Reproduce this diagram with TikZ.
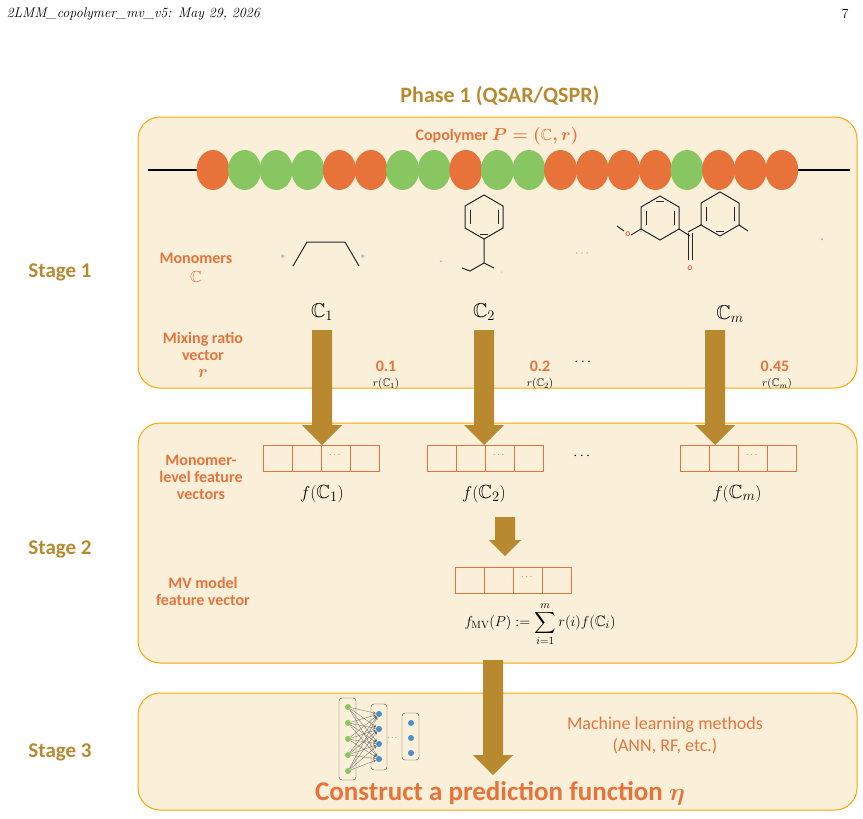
\documentclass[tikz,border=0pt]{standalone}
\usepackage{amsmath,amssymb}
\usepackage{fontspec}
\setsansfont{Carlito}
\usetikzlibrary{shapes.geometric}
\begin{document}
\begin{tikzpicture}[x=1pt,y=-1pt,
 panel/.style={draw=orange!70!yellow,line width=1pt,fill=boxfill,rounded corners=22pt},
 stagelbl/.style={font=\sffamily\bfseries\fontsize{21}{24}\selectfont,text=goldc},
 olbl/.style={font=\sffamily\bfseries\fontsize{16}{18}\selectfont,text=orangec,align=center},
 cell/.style={draw=orangec,minimum width=29pt,minimum height=26pt,inner sep=0pt,line width=0.8pt},
 bead/.style={ellipse,minimum width=33pt,minimum height=40pt,inner sep=0pt},
 bond/.style={line width=1pt,black!85}]
\definecolor{boxfill}{HTML}{FAF0DA}
\definecolor{goldc}{HTML}{B8892E}
\definecolor{orangec}{HTML}{E8733A}
\definecolor{greenc}{HTML}{88C661}
\definecolor{bluec}{HTML}{4A90C8}
\useasboundingbox (0,0) rectangle (863,819);
\node[anchor=west,font=\itshape\fontsize{14}{16}\selectfont] (hdr) at (3,14) {2LMM\_copolymer\_mv\_v5: May 29, 2026};
\node[anchor=east,font=\fontsize{14}{16}\selectfont] (pg) at (852,14) {7};
\node[font=\sffamily\bfseries\fontsize{22}{24}\selectfont,text=goldc] (title) at (500,96) {Phase 1 (QSAR/QSPR)};
\draw[panel] (138,117) rectangle (857,388);
\draw[panel] (138,423) rectangle (857,663);
\draw[panel] (138,693) rectangle (857,810);
\node[stagelbl] (s1) at (60,272) {Stage 1};
\node[stagelbl] (s2) at (60,549) {Stage 2};
\node[stagelbl] (s3) at (60,752) {Stage 3};
\node[olbl] (cop) at (497,136) {Copolymer $\boldsymbol{P=(\mathbb{C},r)}$};
% chain
\coordinate (cl) at (148,170); \coordinate (cr) at (850,170);
\draw[line width=2pt] (cl) -- (cr);
\foreach \c [count=\i from 0] in {orangec,greenc,greenc,greenc,orangec,orangec,greenc,greenc,orangec,greenc,greenc,orangec,orangec,orangec,orangec,greenc,orangec,orangec,orangec}
  \node[bead,fill=\c] (b\i) at ({213+31.6*\i},170) {};
\node[olbl] (mono) at (196,268) {Monomers\\[1pt] $\mathbb{C}$};
\node[olbl] (mix) at (203,355) {Mixing ratio\\[-1pt] vector\\[-1pt] $\boldsymbol{r}$};
\node[olbl] (mlf) at (201,477) {Monomer-\\[-1pt] level feature\\[-1pt] vectors};
\node[olbl] (mvf) at (203,591) {MV model\\[-1pt] feature vector};
% monomer 1
\draw[bond] (293,266) -- (307,242) -- (345,242) -- (359,266);
\node[text=bluec,font=\small] (st1) at (283,258) {*};
\node[text=bluec,font=\small] (st2) at (363,258) {*};
% monomer 2
\begin{scope}[shift={(484,217)}]
 \draw[bond] (0,-22) -- (19,-11) -- (19,11) -- (0,22) -- (-19,11) -- (-19,-11) -- cycle;
 \draw[bond] (-14,-7) -- (-14,7) (14,-7) -- (14,7) (-4,17) -- (4,17);
 \draw[bond] (0,22) -- (0,46) -- (-14,54) -- (-22,51) (0,46) -- (10,51);
\end{scope}
\node[text=bluec,font=\fontsize{5}{5}\selectfont] (st3) at (441,263) {*};
\node[text=bluec,font=\fontsize{5}{5}\selectfont] (st4) at (502,274) {'};
\node[text=orangec,font=\bfseries\large] (dd1) at (583,254) {$\cdots$};
% monomer m
\begin{scope}[shift={(660,218)}]
 \draw[bond] (0,-22) -- (19,-11) -- (19,11) -- (0,22) -- (-19,11) -- (-19,-11) -- cycle;
 \draw[bond] (14,-7) -- (14,7) (-14,-7) -- (-14,7) (-4,-17) -- (4,-17);
 \draw[bond] (-19,11) -- (-29,17) (19,11) -- (30,18);
\end{scope}
\node[text=red,font=\scriptsize\sffamily] (ox1) at (628,234) {O};
\draw[bond] (624,231) -- (617,226);
\draw[bond] (688,232) -- (701,225);
\draw[bond] (688,233) -- (688,260) (692,233) -- (692,260);
\node[text=red,font=\scriptsize\sffamily] (ox2) at (690,268) {O};
\begin{scope}[shift={(720,214)}]
 \draw[bond] (0,-22) -- (19,-11) -- (19,11) -- (0,22) -- (-19,11) -- (-19,-11) -- cycle;
 \draw[bond] (-14,-7) -- (-14,7) (14,-7) -- (14,7) (-4,17) -- (4,17);
 \draw[bond] (-19,11) -- (-20,11) (19,11) -- (28,17);
\end{scope}
\node[text=bluec,font=\fontsize{5}{5}\selectfont] (st5) at (641,233) {*};
\node[text=bluec,font=\fontsize{5}{5}\selectfont] (st6) at (822,241) {*};
% C labels
\node[font=\fontsize{20}{22}\selectfont] (c1) at (322,312) {$\mathbb{C}_1$};
\node[font=\fontsize{20}{22}\selectfont] (c2) at (484,312) {$\mathbb{C}_2$};
\node[font=\fontsize{20}{22}\selectfont] (cm) at (730,314) {$\mathbb{C}_m$};
\node[olbl] (r1) at (386,366) {0.1};
\node[font=\fontsize{11}{12}\selectfont] (r1l) at (386,384) {$r(\mathbb{C}_1)$};
\node[olbl] (r2) at (540,366) {0.2};
\node[font=\fontsize{11}{12}\selectfont] (r2l) at (540,384) {$r(\mathbb{C}_2)$};
\node[olbl] (rm) at (775,366) {0.45};
\node[font=\fontsize{11}{12}\selectfont] (rml) at (777,384) {$r(\mathbb{C}_m)$};
\node[font=\Large] (dd2) at (584,362) {$\cdots$};
% feature vectors
\foreach \n/\x in {fa/263,fb/427,fc/680}{
 \foreach \k in {0,1,2,3} \node[cell] (\n\k) at ({\x+14.5+29*\k},458) {};
 \node[font=\bfseries,text=orangec] (\n d) at ({\x+14.5+58},455) {$\cdots$};
}
\node[font=\Large] (dd3) at (583,456) {$\cdots$};
\node[font=\fontsize{19}{21}\selectfont] (f1) at (322,494) {$f(\mathbb{C}_1)$};
\node[font=\fontsize{19}{21}\selectfont] (f2) at (484,494) {$f(\mathbb{C}_2)$};
\node[font=\fontsize{19}{21}\selectfont] (fm) at (737,494) {$f(\mathbb{C}_m)$};
\foreach \k in {0,1,2,3} \node[cell] (mv\k) at ({455+14.5+29*\k},580) {};
\node[font=\bfseries,text=orangec] (mvd) at ({455+14.5+58},577) {$\cdots$};
\node[font=\fontsize{15}{17}\selectfont] (form) at (540,624) {$f_{\mathrm{MV}}(P) := \displaystyle\sum_{i=1}^{m} r(i) f(\mathbb{C}_i)$};
% arrows
\foreach \x/\ya/\yb/\hw in {322/330/445/20, 484/330/445/20, 715/330/445/20, 505/517/556/16, 493/660/775/20}
  \fill[goldc] ({\x-10},\ya) -- ({\x+10},\ya) -- ({\x+10},{\yb-\hw}) -- ({\x+\hw},{\yb-\hw}) -- (\x,\yb) -- ({\x-\hw},{\yb-\hw}) -- ({\x-10},{\yb-\hw}) -- cycle;
% neural net
\draw[rounded corners=3pt,black!70] (339,698) rectangle (356,780);
\draw[rounded corners=3pt,black!70] (371,704) rectangle (387,770);
\draw[rounded corners=3pt,black!70] (402,713) rectangle (419,760);
\foreach \i in {0,...,4} \node[circle,fill=greenc,inner sep=0pt,minimum size=6pt] (g\i) at (348,{707+16*\i}) {};
\foreach \j in {0,...,3} \node[circle,fill=bluec,inner sep=0pt,minimum size=6pt] (h\j) at (379,{714+15*\j}) {};
\foreach \j in {0,...,2} \node[circle,fill=bluec,inner sep=0pt,minimum size=6pt] (o\j) at (411,{723+15*\j}) {};
\foreach \i in {0,...,4} \foreach \j in {0,...,3} \draw[->,>=stealth,black!60,line width=0.3pt] (g\i) -- (h\j);
\node[font=\scriptsize] (nd) at (393,738) {$\cdots$};
\node[font=\sffamily\fontsize{18}{22}\selectfont,text=orangec,align=center] (ml) at (665,735) {Machine learning methods\\ (ANN, RF, etc.)};
\node[font=\sffamily\bfseries\fontsize{27}{30}\selectfont,text=orangec] (cons) at (500,793) {Construct a prediction function $\boldsymbol{\eta}$};
\end{tikzpicture}
\end{document}
